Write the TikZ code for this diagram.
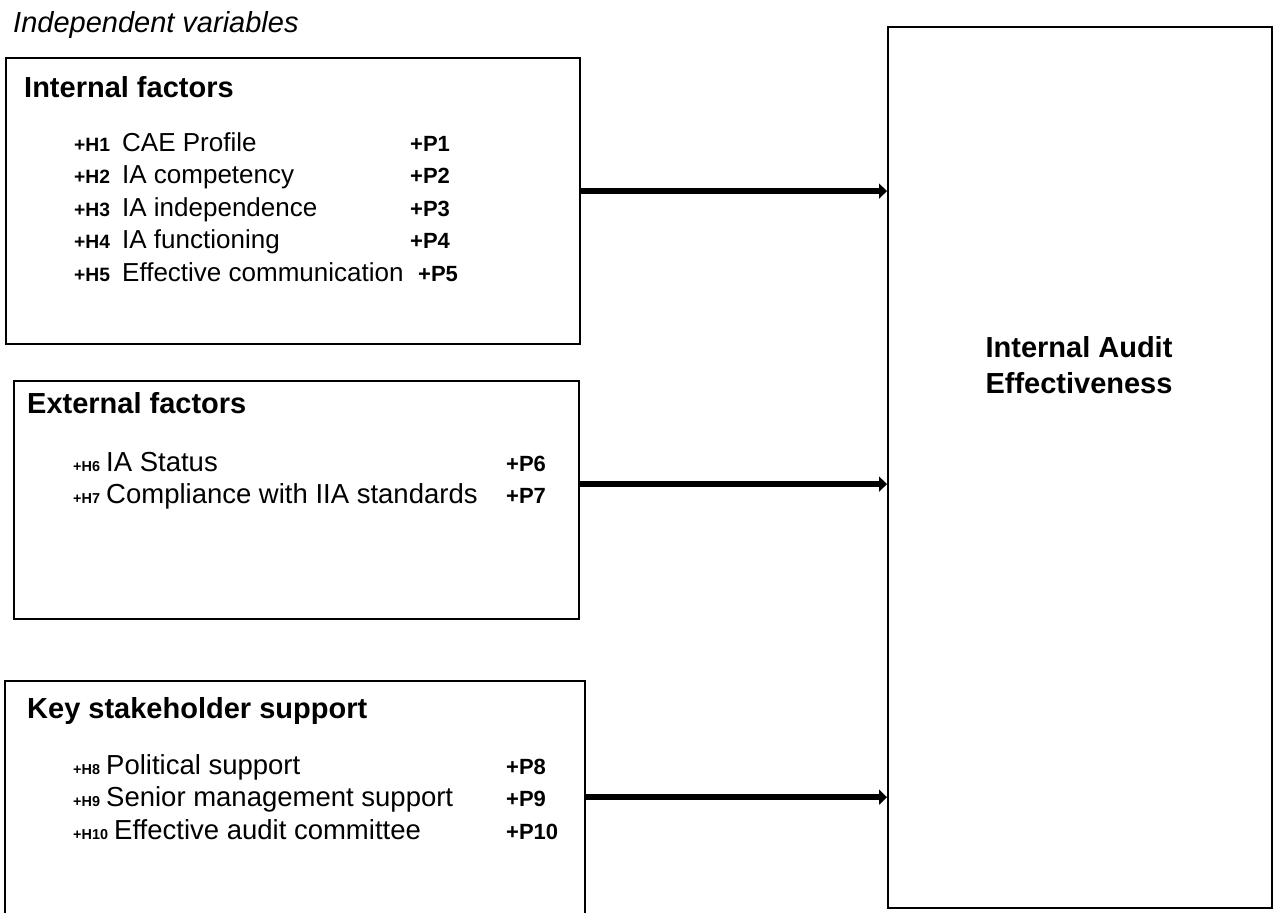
\documentclass[tikz,border=0pt]{standalone}
\usepackage{fontspec}
\setmainfont{Liberation Sans}
\usetikzlibrary{arrows.meta}
\newcommand{\fsz}[1]{\fontsize{#1}{#1}\selectfont}
\begin{document}
\begin{tikzpicture}[x=1pt,y=-1pt,
  box/.style={draw,line width=2.2pt,minimum width=#1,anchor=north west,inner sep=0pt},
  txt/.style={anchor=base west,inner sep=0pt},
  head/.style={txt,font=\fsz{29}\bfseries},
  hlab/.style={txt,font=\fsz{19.3}\bfseries},
  hlabs/.style={txt,font=\fsz{14.4}\bfseries},
  plab/.style={txt,font=\fsz{22}\bfseries},
  itemA/.style={txt,font=\fsz{26}},
  itemB/.style={txt,font=\fsz{27.5}},
  arr/.style={line width=6pt,-{Triangle[length=8pt,width=15pt]}}
]
\useasboundingbox (0,0) rectangle (1274,913);

% title
\node[txt,font=\fsz{29}\itshape] (title) at (13,32) {Independent variables};

% boxes
\node[box=574pt,minimum height=286pt] (b1) at (4.6,57) {};
\node[box=565pt,minimum height=238pt] (b2) at (12.5,380) {};
\node[anchor=north west,inner sep=0pt,minimum width=580pt,minimum height=232pt] (b3) at (4.6,681) {};
\draw[line width=2.2pt] (b3.south west) -- (b3.north west) -- (b3.north east) -- (b3.south east);
\node[box=384pt,minimum height=881pt] (ia) at (887,26) {};

% right box text
\node[anchor=base,inner sep=0pt,font=\fsz{29}\bfseries] (ia1) at (1079,357) {Internal Audit};
\node[anchor=base,inner sep=0pt,font=\fsz{29}\bfseries] (ia2) at (1079,393) {Effectiveness};

% box 1
\node[head] (t1) at (24,97) {Internal factors};
\node[hlab] (h1) at (74,151) {+H1};
\node[itemA] (i1) at (122,151) {CAE Profile};
\node[plab] (p1) at (410,151) {+P1};
\node[hlab] (h2) at (74,183.5) {+H2};
\node[itemA] (i2) at (122,183.5) {IA competency};
\node[plab] (p2) at (410,183.5) {+P2};
\node[hlab] (h3) at (74,216) {+H3};
\node[itemA] (i3) at (122,216) {IA independence};
\node[plab] (p3) at (410,216) {+P3};
\node[hlab] (h4) at (74,248.5) {+H4};
\node[itemA] (i4) at (122,248.5) {IA functioning};
\node[plab] (p4) at (410,248.5) {+P4};
\node[hlab] (h5) at (74,281) {+H5};
\node[itemA] (i5) at (122,281) {Effective communication};
\node[plab] (p5) at (418,281) {+P5};

% box 2
\node[head] (t2) at (27,413) {External factors};
\node[hlabs] (h6) at (73,471) {+H6};
\node[itemB] (i6) at (106,471) {IA Status};
\node[plab] (p6) at (506,471) {+P6};
\node[hlabs] (h7) at (73,503) {+H7};
\node[itemB] (i7) at (106,503) {Compliance with IIA standards};
\node[plab] (p7) at (506,503) {+P7};

% box 3
\node[head] (t3) at (27,718) {Key stakeholder support};
\node[hlabs] (h8) at (73,774) {+H8};
\node[itemB] (i8) at (106,774) {Political support};
\node[plab] (p8) at (506,774) {+P8};
\node[hlabs] (h9) at (73,806.5) {+H9};
\node[itemB] (i9) at (106,806.5) {Senior management support};
\node[plab] (p9) at (506,806.5) {+P9};
\node[hlabs] (h10) at (73,839) {+H10};
\node[itemB] (i10) at (114,839) {Effective audit committee};
\node[plab] (p10) at (506,839) {+P10};

% arrows
\draw[arr] ([yshift=10pt]b1.east) -- ([yshift=10pt]b1.east -| ia.west);
\draw[arr] ([yshift=16pt]b2.east) -- ([yshift=16pt]b2.east -| ia.west);
\draw[arr] (b3.east) -- (b3.east -| ia.west);
\end{tikzpicture}
\end{document}
